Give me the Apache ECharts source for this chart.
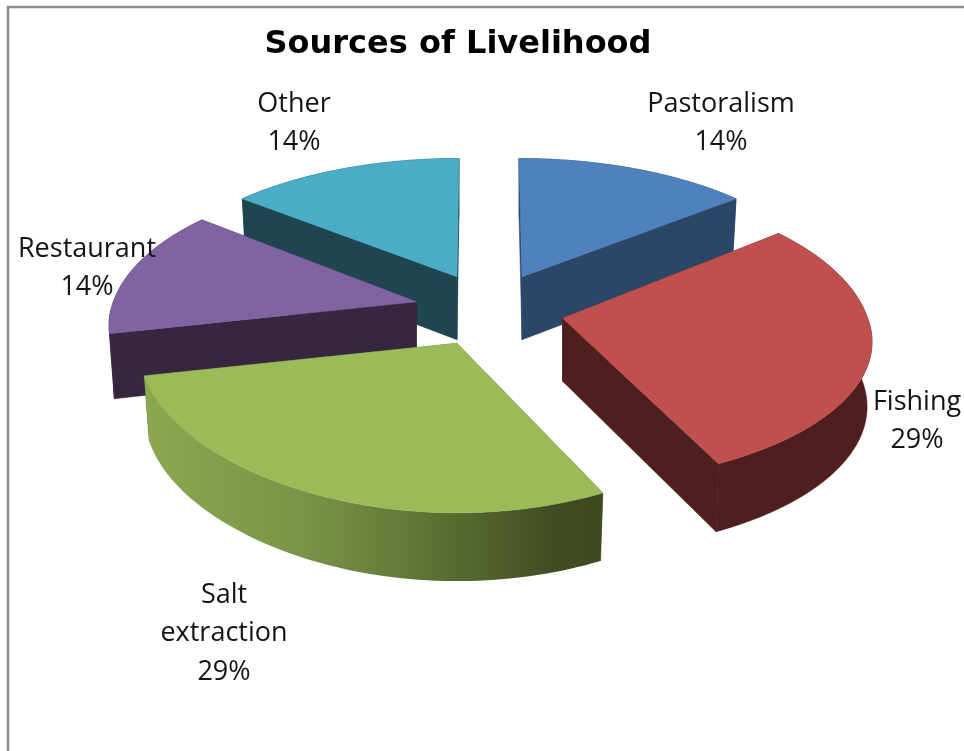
<!DOCTYPE html>
<html>
<head>
<meta charset="utf-8">
<style>html,body{margin:0;padding:0;background:#fff}#c{width:964px;height:751px}</style>
<script src="https://cdn.jsdelivr.net/npm/echarts@6/dist/echarts.min.js"></script>
</head>
<body>
<div id="c"></div>
<script>
// Data
var titleText = 'Sources of Livelihood';
var categories = ['Pastoralism', 'Fishing', 'Salt extraction', 'Restaurant', 'Other'];
var shares = [14.3, 28.6, 28.6, 14.3, 14.3];

// Style and layout
var labelLines = [['Pastoralism'], ['Fishing'], ['Salt', 'extraction'], ['Restaurant'], ['Other']];
var labelAnchors = [[721, 104], [917, 402], [224, 595], [87, 249], [294, 104]];
var topColors = ['#4F81BD', '#C0504D', '#9BBB59', '#8064A2', '#4BACC6'];
var wallColors = ['#2C4668', '#4E1F1E', '#5F7338', '#36263F', '#1E4550'];
var paintOrder = [0, 4, 3, 1, 2];
var pie = {cx: 489.5, cy: 310, ex: 75, ey: 37, depth: 64, depthGrow: 7, apexDepth: 63, bottomScale: 0.984};
// Per-slice perspective tuning of the ellipse the slice rim follows
var rimShape = [
  {rx: 305, px: 0.168, ryBack: 138, ryFront: 137, lean: -3},
  {rx: 305, px: 0.168, ryBack: 150, ryFront: 137, lean: 0},
  {rx: 316, px: 0.067, ryBack: 140, ryFront: 141, lean: 0},
  {rx: 303, px: 0.168, ryBack: 145, ryFront: 138, lean: 0},
  {rx: 305, px: 0.168, ryBack: 138, ryFront: 137, lean: 2}
];
var py = 0.168;

var total = shares.reduce(function (a, b) { return a + b; }, 0);
var startAngles = [];
shares.reduce(function (acc, v, i) { startAngles[i] = acc; return acc + v / total * Math.PI * 2; }, 0);

function rimPoint(apex, theta, bottom, shape) {
  var u = Math.sin(theta), v = -Math.cos(theta);
  var s = bottom ? pie.bottomScale : 1;
  var ry = v < 0 ? shape.ryBack : shape.ryFront;
  return [
    apex[0] + s * (shape.rx * u / (1 - shape.px * v) + shape.lean * Math.max(0, -v)),
    apex[1] + s * ry * v / (1 - py * v) + (bottom ? pie.depth + pie.depthGrow * v : 0)
  ];
}
function poly(points, fill, z2) {
  return {
    type: 'polygon', z2: z2,
    shape: {points: points},
    style: {fill: fill, stroke: typeof fill === 'string' ? fill : null, lineWidth: 0.6}
  };
}

function renderSlice(params, api) {
  var i = params.dataIndex;
  var value = api.value(0);
  var a0 = startAngles[i], a1 = a0 + value / total * Math.PI * 2, mid = (a0 + a1) / 2;
  var apex = [pie.cx + pie.ex * Math.sin(mid), pie.cy - pie.ey * Math.cos(mid)];
  var apexLow = [apex[0], apex[1] + pie.apexDepth];
  var order = paintOrder.indexOf(i) * 10;
  var n = 70, topRim = [], lowRim = [], k;
  for (k = 0; k <= n; k++) {
    var t = a0 + (a1 - a0) * k / n;
    topRim.push(rimPoint(apex, t, false, rimShape[i]));
    lowRim.push(rimPoint(apex, t, true, rimShape[i]));
  }
  var children = [];
  var wall = wallColors[i];
  children.push(poly([apex, topRim[0], lowRim[0], apexLow], wall, order));
  children.push(poly([apex, topRim[n], lowRim[n], apexLow], wall, order));
  var outerFill = wall;
  if (categories[i] === 'Salt extraction') {
    outerFill = new echarts.graphic.LinearGradient(0, 0, 1, 0, [
      {offset: 0, color: '#8CA851'},
      {offset: 0.35, color: '#7A9347'},
      {offset: 0.68, color: '#596A30'},
      {offset: 0.9, color: '#404C23'},
      {offset: 1, color: '#3E4922'}
    ]);
  }
  children.push(poly(topRim.concat(lowRim.slice().reverse()), outerFill, order + 1));
  children.push(poly([apex].concat(topRim), topColors[i], order + 2));

  var pct = Math.round(value / total * 100) + '%';
  var lines = labelLines[i].concat([pct]);
  lines.forEach(function (line, j) {
    children.push({
      type: 'text', z2: 100,
      style: {
        x: labelAnchors[i][0], y: labelAnchors[i][1] + j * 38.7,
        text: line, fill: '#141414', align: 'center', verticalAlign: 'middle',
        font: '27px "Open Sans", sans-serif'
      }
    });
  });
  return {type: 'group', children: children};
}

var chart = echarts.init(document.getElementById('c'), null, {renderer: 'canvas'});
chart.setOption({
  animation: false,
  backgroundColor: '#ffffff',
  title: {
    text: titleText, left: 453, top: 40, textAlign: 'center', textVerticalAlign: 'middle',
    textStyle: {fontFamily: 'DejaVu Sans', fontWeight: 'bold', fontSize: 32, color: '#000'}
  },
  graphic: [{
    type: 'polyline', silent: true,
    shape: {points: [[8, 751], [8, 7], [964, 7]]},
    style: {fill: null, stroke: '#8C8C8C', lineWidth: 2.5}
  }],
  series: [{
    type: 'custom',
    coordinateSystem: 'none',
    silent: true,
    renderItem: renderSlice,
    data: shares.map(function (v, i) { return {name: categories[i], value: [v]}; })
  }]
});
</script>
</body>
</html>
